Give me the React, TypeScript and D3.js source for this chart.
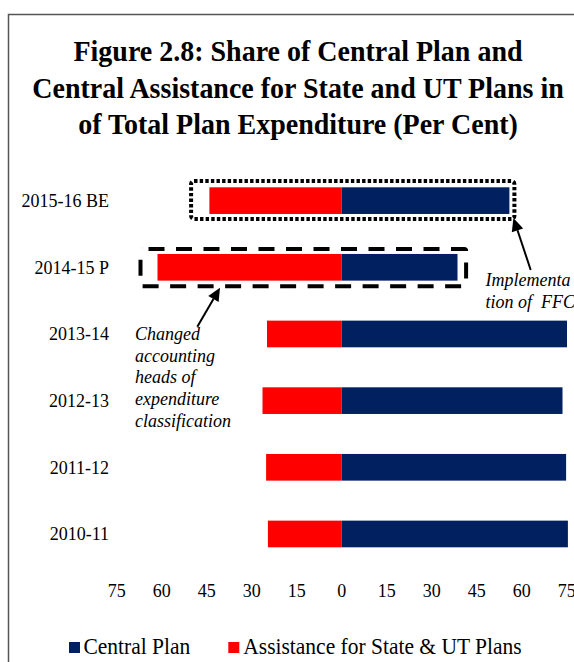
import React from "react";
import * as d3 from "d3";

const categories = ["2015-16 BE", "2014-15 P", "2013-14", "2012-13", "2011-12", "2010-11"];
const centralPlan = [55.9, 38.6, 75.1, 73.6, 74.8, 75.4];
const assistance = [44.1, 61.4, 24.9, 26.4, 25.2, 24.6];
const xTicks = [-75, -60, -45, -30, -15, 0, 15, 30, 45, 60, 75];
const titleLines = [
  "Figure 2.8: Share of Central Plan and",
  "Central Assistance for State and UT Plans in",
  "of Total Plan Expenditure (Per Cent)",
];
const seriesNames = ["Central Plan", "Assistance for State & UT Plans"];
const noteLeft = ["Changed", "accounting", "heads of", "expenditure", "classification"];
const noteRight = ["Implementa", "tion of  FFC"];

const BLUE = "#002060";
const RED = "#FF0000";
const FONT = "'Liberation Serif','Times New Roman',serif";
const SY = 1.08;

function T(props: {
  x: number;
  y: number;
  size: number;
  anchor?: string;
  weight?: string;
  italic?: boolean;
  children: React.ReactNode;
}) {
  return (
    <text
      transform={`translate(${props.x},${props.y}) scale(1,${SY})`}
      textAnchor={props.anchor || "start"}
      fontSize={props.size}
      fontWeight={props.weight || "normal"}
      fontStyle={props.italic ? "italic" : "normal"}
      fill="#000"
      style={{ whiteSpace: "pre" }}
    >
      {props.children}
    </text>
  );
}

export default function App() {
  const W = 574;
  const H = 662;
  const x = d3.scaleLinear().domain([-75, 75]).range([116.7, 566.7]);
  const y = d3
    .scaleBand<string>()
    .domain(categories)
    .range([167.3, 567.3])
    .paddingInner(0.6)
    .paddingOuter(0.3);
  const bw = y.bandwidth();

  const b0 = y(categories[0])!;
  const dotted = {
    x1: x(-assistance[0]) - 18.3,
    x2: x(centralPlan[0]) + 5,
    y1: b0 - 6.3,
    y2: b0 + bw + 5,
  };
  const b1 = y(categories[1])!;
  const dashed = {
    x1: x(-assistance[1]) - 17,
    x2: x(centralPlan[1]) + 8.6,
    y1: b1 - 5,
    y2: b1 + bw + 5.6,
  };

  const arrow = (x1: number, y1: number, x2: number, y2: number) => {
    const ang = Math.atan2(y2 - y1, x2 - x1);
    const L = 13;
    const hw = 6;
    const bx = x2 - L * Math.cos(ang);
    const by = y2 - L * Math.sin(ang);
    const px = -Math.sin(ang);
    const py = Math.cos(ang);
    return (
      <g>
        <line x1={x1} y1={y1} x2={bx} y2={by} stroke="#000" strokeWidth={2} />
        <polygon
          points={`${x2},${y2} ${bx + px * hw},${by + py * hw} ${bx - px * hw},${by - py * hw}`}
          fill="#000"
        />
      </g>
    );
  };

  return (
    <svg
      width={W}
      height={H}
      style={{ position: "absolute", left: 0, top: 0, display: "block", background: "#fff" }}
      fontFamily={FONT}
    >
      <rect x={8.5} y={14.5} width={620} height={700} fill="#fff" stroke="#555" strokeWidth={1.5} />

      {titleLines.map((t, i) => (
        <T key={t} x={298} y={61 + i * 36.5} anchor="middle" size={28} weight="bold">
          {t}
        </T>
      ))}

      {categories.map((c, i) => {
        const yy = y(c)!;
        return (
          <g key={c}>
            <rect
              x={x(-assistance[i])}
              y={yy}
              width={x(0) - x(-assistance[i])}
              height={bw}
              fill={RED}
            />
            <rect x={x(0)} y={yy} width={x(centralPlan[i]) - x(0)} height={bw} fill={BLUE} />
            <T x={109} y={yy + bw / 2 + 6.5} anchor="end" size={18}>
              {c}
            </T>
          </g>
        );
      })}

      {xTicks.map((t) => (
        <T key={t} x={x(t)} y={597} anchor="middle" size={18}>
          {Math.abs(t)}
        </T>
      ))}

      <rect
        x={dotted.x1}
        y={dotted.y1}
        width={dotted.x2 - dotted.x1}
        height={dotted.y2 - dotted.y1}
        rx={3}
        fill="none"
        stroke="#000"
        strokeWidth={4}
        strokeDasharray="3.4 2.2"
      />
      <rect
        x={dashed.x1}
        y={dashed.y1}
        width={dashed.x2 - dashed.x1}
        height={dashed.y2 - dashed.y1}
        rx={2}
        fill="none"
        stroke="#000"
        strokeWidth={4}
        strokeDasharray="16 11.5"
        strokeDashoffset={-6}
      />

      {arrow(530.7, 270, dotted.x2 - 1, dotted.y2 - 1)}
      {arrow(197.3, 326.7, 220, dashed.y2 + 1.5)}

      {noteLeft.map((t, i) => (
        <T key={t} x={135} y={340 + i * 21.7} size={18} italic>
          {t}
        </T>
      ))}
      {noteRight.map((t, i) => (
        <T key={t} x={485.5} y={286 + i * 21.7} size={18} italic>
          {t}
        </T>
      ))}

      <rect x={69} y={642} width={11} height={11} fill={BLUE} />
      <T x={83.5} y={654} size={21.5}>
        {seriesNames[0]}
      </T>
      <rect x={228.3} y={642} width={11} height={11} fill={RED} />
      <T x={243.3} y={654} size={21.5}>
        {seriesNames[1]}
      </T>
    </svg>
  );
}
